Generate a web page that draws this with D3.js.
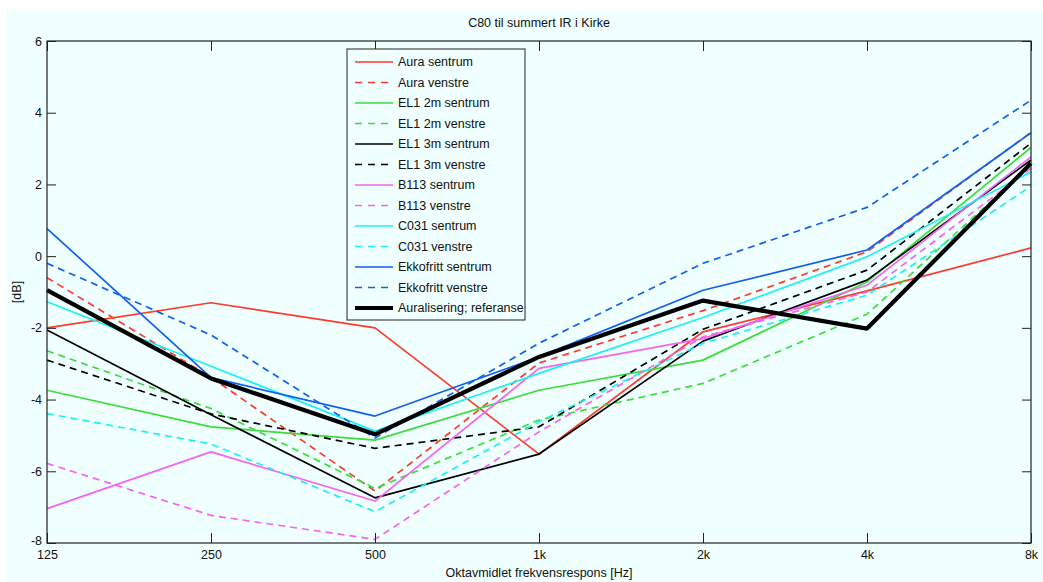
<!DOCTYPE html>
<html>
<head>
<meta charset="utf-8">
<script src="https://cdn.jsdelivr.net/npm/d3@7"></script>
<style>
  html, body { margin: 0; padding: 0; background: #ffffff; }
  svg { display: block; }
  text { font-family: "Liberation Sans", Arial, Helvetica, sans-serif; fill: #111; }
</style>
</head>
<body>
<svg id="chart" width="1043" height="582"></svg>
<script>
// ---- data ----
const freqLabels = ["125", "250", "500", "1k", "2k", "4k", "8k"];
const yTicks = [-8, -6, -4, -2, 0, 2, 4, 6];

const auraSentrum   = [-2.00, -1.30, -2.00, -5.52, -2.11, -0.97, 0.23];
const auraVenstre   = [-0.60, -3.38, -6.55, -2.98, -1.52,  0.12, 3.45];
const el12mSentrum  = [-3.74, -4.76, -5.13, -3.74, -2.90, -0.72, 3.03];
const el12mVenstre  = [-2.64, -4.25, -6.48, -4.57, -3.55, -1.62, 2.55];
const el13mSentrum  = [-2.06, -4.42, -6.74, -5.52, -2.37, -0.67, 2.68];
const el13mVenstre  = [-2.90, -4.40, -5.36, -4.76, -2.04, -0.39, 3.15];
const b113Sentrum   = [-7.04, -5.46, -6.83, -3.13, -2.30, -0.81, 2.77];
const b113Venstre   = [-5.78, -7.23, -7.90, -4.90, -2.25, -1.00, 2.45];
const c031Sentrum   = [-1.27, -3.07, -4.88, -3.27, -1.71, -0.02, 2.35];
const c031Venstre   = [-4.39, -5.24, -7.13, -4.62, -2.43, -1.09, 1.95];
const ekkoSentrum   = [ 0.77, -3.39, -4.46, -2.81, -0.95,  0.17, 3.44];
const ekkoVenstre   = [-0.20, -2.20, -5.07, -2.43, -0.20,  1.36, 4.35];
const auralisering  = [-0.95, -3.41, -4.97, -2.81, -1.24, -2.02, 2.59];

const seriesNames = [
  "Aura sentrum", "Aura venstre", "EL1 2m sentrum", "EL1 2m venstre",
  "EL1 3m sentrum", "EL1 3m venstre", "B113 sentrum", "B113 venstre",
  "C031 sentrum", "C031 venstre", "Ekkofritt sentrum", "Ekkofritt venstre",
  "Auralisering; referanse"
];
const seriesValues = [
  auraSentrum, auraVenstre, el12mSentrum, el12mVenstre,
  el13mSentrum, el13mVenstre, b113Sentrum, b113Venstre,
  c031Sentrum, c031Venstre, ekkoSentrum, ekkoVenstre, auralisering
];
const seriesColors = [
  "#ff3a2a", "#ff3a2a", "#3ddc3a", "#3ddc3a",
  "#000000", "#000000", "#f763f0", "#f763f0",
  "#1ef0f0", "#1ef0f0", "#1060f0", "#1060f0", "#000000"
];
const seriesDashed = [false, true, false, true, false, true, false, true, false, true, false, true, false];

// ---- layout ----
const W = 1043, H = 582;
const plot = { left: 47, right: 1031, top: 41, bottom: 543 };
const bg = "#f0ffff";

const svg = d3.select("#chart");

svg.append("rect")
  .attr("x", 6).attr("y", 9)
  .attr("width", W - 6).attr("height", H - 9)
  .attr("fill", bg);

const x = d3.scalePoint().domain(freqLabels).range([plot.left, plot.right]).padding(0);
const y = d3.scaleLinear().domain([-8, 6]).range([plot.bottom, plot.top]);

// lines
const line = d3.line()
  .x((d, i) => x(freqLabels[i]))
  .y(d => y(d));

const gLines = svg.append("g");
seriesValues.forEach((vals, k) => {
  const thick = k === seriesValues.length - 1;
  gLines.append("path")
    .datum(vals)
    .attr("d", line)
    .attr("fill", "none")
    .attr("stroke", seriesColors[k])
    .attr("stroke-width", thick ? 4.2 : 1.7)
    .attr("stroke-linejoin", "round")
    .attr("stroke-dasharray", seriesDashed[k] ? "7,5" : null);
});

// axes
const axisColor = "#222";
const fmt = d => String(d);

const gLeft = svg.append("g").attr("transform", `translate(${plot.left},0)`)
  .call(d3.axisLeft(y).tickValues(yTicks).tickSize(-9).tickPadding(5).tickFormat(fmt));
const gRight = svg.append("g").attr("transform", `translate(${plot.right},0)`)
  .call(d3.axisRight(y).tickValues(yTicks).tickSize(-9).tickFormat(""));
const gBottom = svg.append("g").attr("transform", `translate(0,${plot.bottom})`)
  .call(d3.axisBottom(x).tickSize(-10).tickPadding(7));
const gTop = svg.append("g").attr("transform", `translate(0,${plot.top})`)
  .call(d3.axisTop(x).tickSize(-10).tickFormat(""));

[gLeft, gRight, gBottom, gTop].forEach(g => {
  g.select(".domain").remove();
  g.selectAll(".tick line").attr("stroke", axisColor).attr("stroke-width", 1);
  g.selectAll(".tick text")
    .attr("font-family", "'Liberation Sans', Arial, sans-serif")
    .attr("font-size", 12.5)
    .attr("fill", "#111");
});
// lowest y label sits slightly higher to clear the x labels
gLeft.selectAll(".tick text").filter(d => d === -8).attr("dy", "0.1em");

svg.append("rect")
  .attr("x", plot.left).attr("y", plot.top)
  .attr("width", plot.right - plot.left).attr("height", plot.bottom - plot.top)
  .attr("fill", "none").attr("stroke", axisColor).attr("stroke-width", 1.2);

// titles
svg.append("text")
  .attr("x", (plot.left + plot.right) / 2).attr("y", 27)
  .attr("text-anchor", "middle").attr("font-size", 12.5)
  .text("C80 til summert IR i Kirke");

svg.append("text")
  .attr("x", (plot.left + plot.right) / 2).attr("y", 577)
  .attr("text-anchor", "middle").attr("font-size", 12.5)
  .text("Oktavmidlet frekvensrespons [Hz]");

svg.append("text")
  .attr("transform", `translate(21,${(plot.top + plot.bottom) / 2}) rotate(-90)`)
  .attr("text-anchor", "middle").attr("font-size", 12.5)
  .text("[dB]");

// legend
const leg = { x: 347, y: 49, w: 178, h: 271 };
const gLeg = svg.append("g");
gLeg.append("rect")
  .attr("x", leg.x).attr("y", leg.y).attr("width", leg.w).attr("height", leg.h)
  .attr("fill", bg).attr("stroke", axisColor).attr("stroke-width", 1);

const legY = d3.scaleLinear().domain([0, seriesNames.length - 1]).range([leg.y + 13, leg.y + 259]);
seriesNames.forEach((name, k) => {
  const yy = legY(k);
  const thick = k === seriesNames.length - 1;
  gLeg.append("line")
    .attr("x1", leg.x + 8).attr("x2", leg.x + 46)
    .attr("y1", yy).attr("y2", yy)
    .attr("stroke", seriesColors[k])
    .attr("stroke-width", thick ? 4.2 : 1.7)
    .attr("stroke-dasharray", seriesDashed[k] ? "7,6" : null);
  gLeg.append("text")
    .attr("x", leg.x + 51).attr("y", yy)
    .attr("dy", "0.35em")
    .attr("font-size", 12.5)
    .text(name);
});
</script>
</body>
</html>
